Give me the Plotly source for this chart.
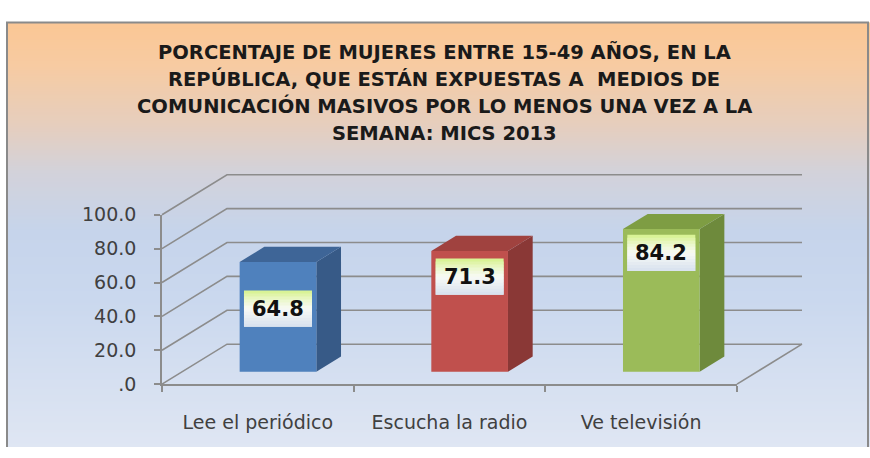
import plotly.graph_objects as go

# ---------------- data ----------------
CATEGORIES = ["Lee el periódico", "Escucha la radio", "Ve televisión"]
VALUES = [64.8, 71.3, 84.2]
Y_TICKS = [0, 20, 40, 60, 80, 100]
Y_TICK_LABELS = [".0", "20.0", "40.0", "60.0", "80.0", "100.0"]
TITLE_LINES = [
    "PORCENTAJE DE MUJERES ENTRE 15-49 AÑOS, EN LA",
    "REPÚBLICA, QUE ESTÁN EXPUESTAS A  MEDIOS DE",
    "COMUNICACIÓN MASIVOS POR LO MENOS UNA VEZ A LA",
    "SEMANA: MICS 2013",
]

# ---------------- style ----------------
FRONT = ["#4F81BD", "#C0504D", "#9BBB59"]
SIDE = ["#375A87", "#8A3836", "#6E8A3C"]
TOP = ["#3E6597", "#A0423F", "#7E9D43"]
LABEL_DROP_PX = [49, 27, 25]
GRID_COLOR = "#8C8C8C"
TEXT_COLOR = "#404040"
FONT = "DejaVu Sans"

W, H = 870, 458
X0_PX, X1_PX = 162, 737          # front axis left / right end
Y0_PX, YTOP_PX = 392, 214        # front axis bottom / top
DEPTH_DX_PX, DEPTH_DY_PX = 65, 42
BAR_FRONT_FRAC, BAR_BACK_FRAC = 0.31, 0.69
BAR_WIDTH = 0.40
FRAME_L, FRAME_T, FRAME_R = 7, 12, 868
LABEL_W_PX, LABEL_H_PX = 68, 38
TITLE_Y_PX = [43, 71.5, 100, 128.5]
TITLE_X_PX = 444

n = len(CATEGORIES)
ymax = Y_TICKS[-1]
cat_px = (X1_PX - X0_PX) / n
unit_px = (Y0_PX - YTOP_PX) / ymax


def px_to_x(px):
    return (px - X0_PX) / cat_px


def px_to_y(py):
    return (Y0_PX - py) / unit_px


dxc = DEPTH_DX_PX / cat_px
dyv = DEPTH_DY_PX / unit_px

fig = go.Figure()


def hex2rgb(h):
    h = h.lstrip("#")
    return tuple(int(h[i:i + 2], 16) for i in (0, 2, 4))


def lerp_color(stops, t):
    for (t0, c0), (t1, c1) in zip(stops, stops[1:]):
        if t0 <= t <= t1:
            f = 0 if t1 == t0 else (t - t0) / (t1 - t0)
            a, b = hex2rgb(c0), hex2rgb(c1)
            return "rgb(%d,%d,%d)" % tuple(round(a[i] + (b[i] - a[i]) * f) for i in range(3))
    return stops[-1][1]


# ---------- background gradient ----------
bg_stops = [
    (0.0, "#FBC795"), (0.10, "#F7CBA2"), (0.24, "#E6CEBE"), (0.35, "#D3D2DA"),
    (0.49, "#C6D4EB"), (0.65, "#CAD8EE"), (1.0, "#DFE6F3"),
]
NROWS = 60
row_h = (H - FRAME_T) / NROWS
ys, zs = [], []
for k in range(NROWS):
    py = H - (k + 0.5) * row_h
    t = (py - FRAME_T) / (H - FRAME_T)
    ys.append(px_to_y(py))
    zs.append([t, t])
xl, xr = px_to_x(FRAME_L), px_to_x(W)
fig.add_trace(go.Heatmap(
    x=[xl + (xr - xl) / 4, xl + 3 * (xr - xl) / 4], y=ys, z=zs,
    zmin=0, zmax=1, zsmooth="best", showscale=False, hoverinfo="skip",
    colorscale=[[t, c] for t, c in bg_stops], xaxis="x", yaxis="y",
))

# ---------- 3D walls / gridlines ----------
gx, gy = [], []
for v in Y_TICKS:
    gx += [0, dxc, n + dxc, None]
    gy += [v, v + dyv, v + dyv, None]
gx += [n + dxc, n, None]
gy += [dyv, 0, None]
fig.add_trace(go.Scatter(x=gx, y=gy, mode="lines", line=dict(color=GRID_COLOR, width=1.6),
                         hoverinfo="skip", showlegend=False, xaxis="x", yaxis="y"))

# ---------- bars ----------
f1x, f1y = BAR_FRONT_FRAC * dxc, BAR_FRONT_FRAC * dyv
ddx, ddy = (BAR_BACK_FRAC - BAR_FRONT_FRAC) * dxc, (BAR_BACK_FRAC - BAR_FRONT_FRAC) * dyv
shapes = []
annotations = []
lab_stops = [(0.0, "#D6F28C"), (0.25, "#EAF7C8"), (0.5, "#F8FAF6"), (1.0, "#D7E1EE")]
for i, v in enumerate(VALUES):
    c = i + 0.5
    xl_b = c - BAR_WIDTH / 2 + f1x
    xr_b = c + BAR_WIDTH / 2 + f1x
    yb, yt = f1y, v + f1y
    fig.add_trace(go.Scatter(
        x=[xr_b, xr_b, xr_b + ddx, xr_b + ddx, xr_b], y=[yb, yt, yt + ddy, yb + ddy, yb],
        fill="toself", fillcolor=SIDE[i], mode="lines", line=dict(width=0, color=SIDE[i]),
        hoverinfo="skip", showlegend=False, xaxis="x", yaxis="y"))
    fig.add_trace(go.Scatter(
        x=[xl_b, xr_b, xr_b + ddx, xl_b + ddx, xl_b], y=[yt, yt, yt + ddy, yt + ddy, yt],
        fill="toself", fillcolor=TOP[i], mode="lines", line=dict(width=0, color=TOP[i]),
        hoverinfo="skip", showlegend=False, xaxis="x", yaxis="y"))
    fig.add_trace(go.Scatter(
        x=[xl_b, xr_b, xr_b, xl_b, xl_b], y=[yb, yb, yt, yt, yb],
        fill="toself", fillcolor=FRONT[i], mode="lines", line=dict(width=0, color=FRONT[i]),
        hoverinfo="skip", showlegend=False, xaxis="x", yaxis="y"))

    # label box with vertical gradient (overlapping bands to avoid seams)
    cx = c + f1x
    cy = yt - LABEL_DROP_PX[i] / unit_px
    bw = LABEL_W_PX / cat_px
    bh = LABEL_H_PX / unit_px
    NB = 12
    hb = bh / NB
    for k in range(NB):
        t = (k + 0.5) / NB
        y_top = cy + bh / 2 - k * hb
        y_bot = y_top - (2 * hb if k < NB - 1 else hb)
        shapes.append(dict(type="rect", xref="x", yref="y", x0=cx - bw / 2, x1=cx + bw / 2,
                           y0=y_bot, y1=y_top, line=dict(width=0),
                           fillcolor=lerp_color(lab_stops, t), layer="above"))
    annotations.append(dict(x=cx, y=cy, xref="x", yref="y", text="<b>%.1f</b>" % v,
                            showarrow=False, font=dict(family=FONT, size=21, color="#111111")))

# invisible data trace on the visible axes (hover)
fig.add_trace(go.Scatter(x=[i + 0.5 for i in range(n)], y=VALUES, mode="markers",
                         marker=dict(opacity=0), showlegend=False, xaxis="x2", yaxis="y2",
                         text=CATEGORIES, hovertemplate="%{text}: %{y:.1f}<extra></extra>"))

# title
for line, py in zip(TITLE_LINES, TITLE_Y_PX):
    annotations.append(dict(x=TITLE_X_PX / W, y=1 - py / H, xref="paper", yref="paper",
                            text="<b>%s</b>" % line, showarrow=False, xanchor="center", yanchor="middle",
                            font=dict(family=FONT, size=19.5, color="#1a1a1a")))

# frame
shapes.append(dict(type="path", xref="paper", yref="paper",
                   path="M %f,0 L %f,%f L %f,%f L %f,0" % (
                       FRAME_L / W, FRAME_L / W, 1 - FRAME_T / H, FRAME_R / W, 1 - FRAME_T / H, FRAME_R / W),
                   line=dict(color="#8A8A8A", width=2), layer="above"))

fig.update_layout(
    width=W, height=H, margin=dict(l=0, r=0, t=0, b=0),
    paper_bgcolor="white", plot_bgcolor="rgba(0,0,0,0)",
    showlegend=False, shapes=shapes, annotations=annotations,
    xaxis=dict(domain=[0, 1], range=[px_to_x(0), px_to_x(W)], visible=False, fixedrange=True),
    yaxis=dict(domain=[0, 1], range=[px_to_y(H), px_to_y(0)], visible=False, fixedrange=True),
    xaxis2=dict(domain=[X0_PX / W, X1_PX / W], range=[0, n], anchor="y2",
                tickmode="array", tickvals=[i + 0.5 for i in range(n)], ticktext=CATEGORIES,
                ticks="", showline=True, linecolor=GRID_COLOR, linewidth=1.6,
                showgrid=False, zeroline=False, fixedrange=True,
                minor=dict(tickmode="array", tickvals=list(range(n + 1)), ticks="outside",
                           ticklen=6, tickwidth=1.6, tickcolor=GRID_COLOR, showgrid=False),
                tickfont=dict(family=FONT, size=19, color=TEXT_COLOR), ticklabelstandoff=20),
    yaxis2=dict(domain=[(H - Y0_PX) / H, (H - YTOP_PX) / H], range=[0, ymax], anchor="x2",
                tickmode="array", tickvals=Y_TICKS, ticktext=Y_TICK_LABELS,
                ticks="outside", ticklen=6, tickwidth=1.6, tickcolor=GRID_COLOR,
                showline=True, linecolor=GRID_COLOR, linewidth=1.6,
                showgrid=False, zeroline=False, fixedrange=True,
                tickfont=dict(family=FONT, size=19, color=TEXT_COLOR), ticklabelstandoff=14),
)

POST = (
    "document.documentElement.style.margin='0';"
    "document.documentElement.style.overflow='hidden';"
    "document.body.style.margin='0';document.body.style.overflow='hidden';"
    "var d=document.getElementById('{plot_id}');"
    "d.style.position='fixed';d.style.left='0px';d.style.top='0px';"
)
fig.write_html("out.html", config={"displayModeBar": False}, post_script=POST)
